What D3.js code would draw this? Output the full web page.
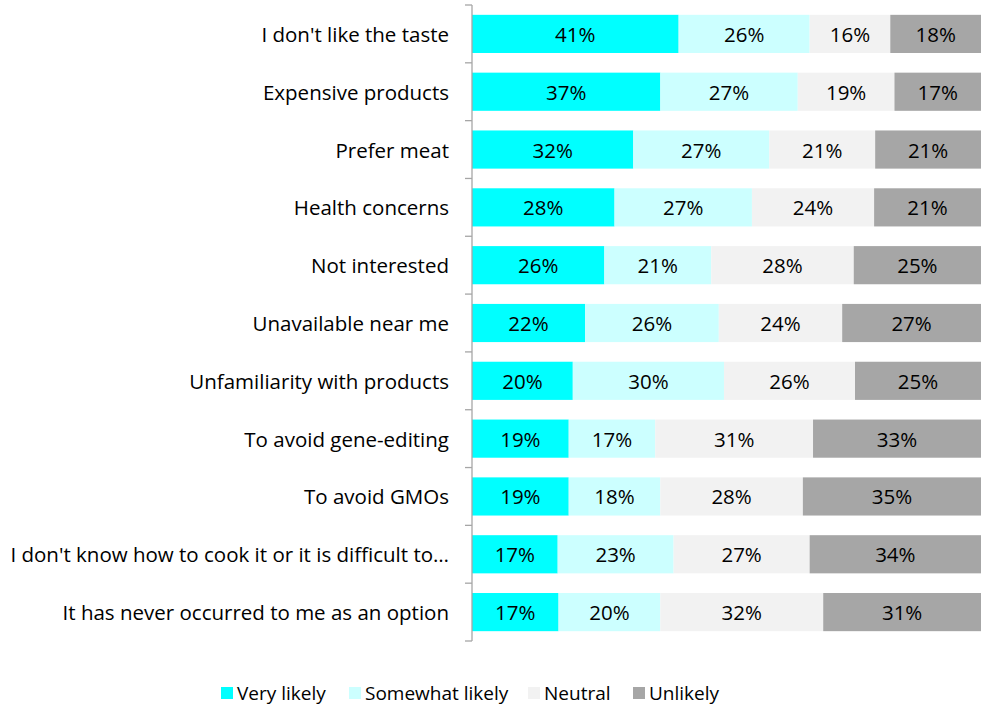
<!DOCTYPE html>
<html>
<head>
<meta charset="utf-8">
<script src="https://cdn.jsdelivr.net/npm/d3@7"></script>
<style>
  html, body { margin: 0; padding: 0; background: #fff; }
  svg text { font-family: "Open Sans", Lato, sans-serif; fill: #000; }
</style>
</head>
<body>
<svg id="chart" width="981" height="709"></svg>
<script>
const categories = [
  "I don't like the taste",
  "Expensive products",
  "Prefer meat",
  "Health concerns",
  "Not interested",
  "Unavailable near me",
  "Unfamiliarity with products",
  "To avoid gene-editing",
  "To avoid GMOs",
  "I don't know how to cook it or it is difficult to\u2026",
  "It has never occurred to me as an option"
];
const seriesNames = ["Very likely", "Somewhat likely", "Neutral", "Unlikely"];
const veryLikely     = [41, 37, 32, 28, 26, 22, 20, 19, 19, 17, 17];
const somewhatLikely = [26, 27, 27, 27, 21, 26, 30, 17, 18, 23, 20];
const neutral        = [16, 19, 21, 24, 28, 24, 26, 31, 28, 27, 32];
const unlikely       = [18, 17, 21, 21, 25, 27, 25, 33, 35, 34, 31];
const seriesColors = ["#00FFFF", "#CCFFFF", "#F2F2F2", "#A6A6A6"];

const svg = d3.select("#chart");
const margin = { left: 472, right: 0, top: 5, bottom: 68 };
const W = 981, H = 709;
const fontSize = 20.5;
const legendFontSize = 19;

const rows = categories.map((c, i) => {
  const vals = [veryLikely[i], somewhatLikely[i], neutral[i], unlikely[i]];
  const total = d3.sum(vals);
  const r = { category: c, total };
  seriesNames.forEach((s, k) => { r[s] = vals[k]; r[s + "_share"] = vals[k] / total; });
  return r;
});

const stack = d3.stack().keys(seriesNames.map(s => s + "_share"));
const layers = stack(rows);

const y = d3.scaleBand().domain(categories).range([margin.top, H - margin.bottom]).paddingInner(0.34).paddingOuter(0.17);
const x = d3.scaleLinear().domain([0, 1]).range([margin.left, W - margin.right]);

const g = svg.append("g");
layers.forEach((layer, k) => {
  const grp = g.append("g");
  grp.selectAll("rect").data(layer).join("rect")
    .attr("x", d => x(d[0]))
    .attr("y", d => y(d.data.category))
    .attr("width", d => x(d[1]) - x(d[0]))
    .attr("height", y.bandwidth())
    .attr("fill", seriesColors[k]);
  grp.selectAll("text").data(layer).join("text")
    .attr("x", d => (x(d[0]) + x(d[1])) / 2)
    .attr("y", d => y(d.data.category) + y.bandwidth() / 2)
    .attr("text-anchor", "middle")
    .attr("dominant-baseline", "central")
    .attr("font-size", fontSize)
    .text(d => d.data[seriesNames[k]] + "%");
});

// Category axis with ticks between bands
const axisG = svg.append("g");
const y0 = margin.top, y1 = H - margin.bottom;
axisG.append("line").attr("x1", margin.left).attr("x2", margin.left)
  .attr("y1", y0).attr("y2", y1).attr("stroke", "#A6A6A6").attr("stroke-width", 1.3);
d3.range(categories.length + 1).forEach(i => {
  const ty = y0 + i * (y1 - y0) / categories.length;
  axisG.append("line").attr("x1", margin.left - 7).attr("x2", margin.left)
    .attr("y1", ty).attr("y2", ty).attr("stroke", "#A6A6A6").attr("stroke-width", 1.3);
});
axisG.selectAll("text.cat").data(categories).join("text")
  .attr("class", "cat")
  .attr("x", margin.left - 23)
  .attr("y", d => y(d) + y.bandwidth() / 2)
  .attr("text-anchor", "end")
  .attr("dominant-baseline", "central")
  .attr("font-size", fontSize)
  .text(d => d);

// Legend
const legendX = [221, 349, 528, 633];
const legend = svg.append("g");
seriesNames.forEach((s, k) => {
  legend.append("rect").attr("x", legendX[k]).attr("y", 687).attr("width", 12).attr("height", 12)
    .attr("fill", seriesColors[k]);
  legend.append("text").attr("x", legendX[k] + 16).attr("y", 693)
    .attr("dominant-baseline", "central").attr("font-size", legendFontSize).text(s);
});
</script>
</body>
</html>
